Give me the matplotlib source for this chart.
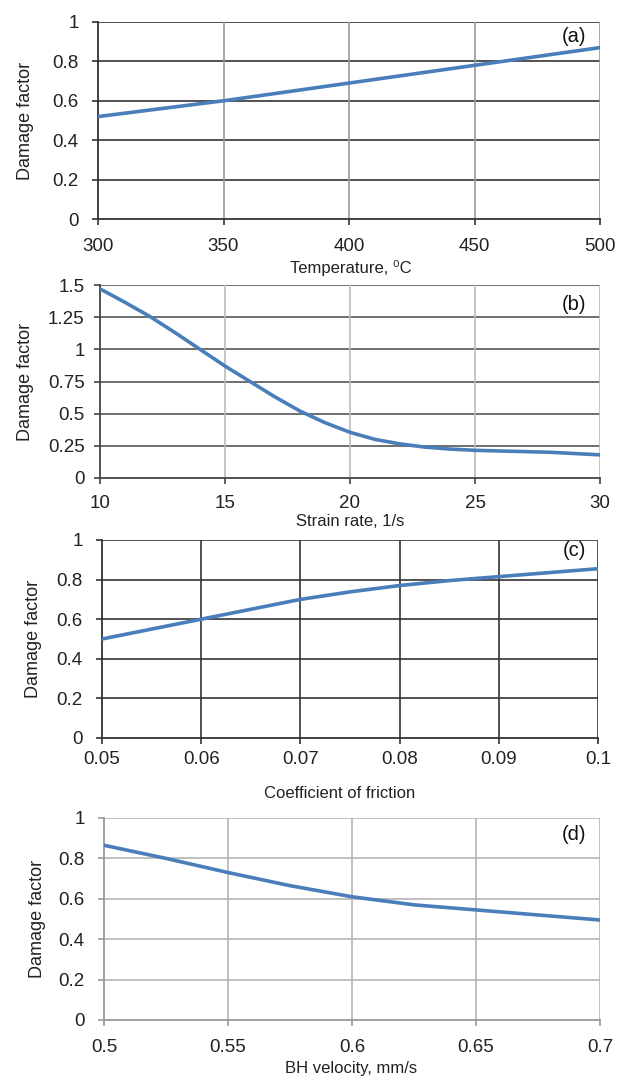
import matplotlib
matplotlib.use('Agg')
import matplotlib.pyplot as plt
from matplotlib.ticker import FuncFormatter

plt.rcParams['font.family'] = ['Liberation Sans', 'DejaVu Sans']

# (a) temperature
temp_x = [300, 325, 350, 375, 400, 425, 450, 475, 500]
temp_y = [0.52, 0.56, 0.60, 0.645, 0.69, 0.735, 0.78, 0.825, 0.87]
# (b) strain rate
rate_x = [10, 11, 12, 13, 14, 15, 16, 17, 18, 19, 20, 21, 22, 23, 24, 25, 26, 27, 28, 29, 30]
rate_y = [1.47, 1.365, 1.255, 1.13, 1.0, 0.87, 0.75, 0.63, 0.52, 0.43, 0.355, 0.30, 0.265, 0.24, 0.225,
          0.215, 0.21, 0.205, 0.20, 0.19, 0.18]
# (c) coefficient of friction
fric_x = [0.05, 0.055, 0.06, 0.065, 0.07, 0.075, 0.08, 0.085, 0.09, 0.095, 0.1]
fric_y = [0.50, 0.55, 0.60, 0.65, 0.70, 0.738, 0.77, 0.795, 0.815, 0.835, 0.855]
# (d) BH velocity
bh_x = [0.5, 0.525, 0.55, 0.575, 0.6, 0.625, 0.65, 0.675, 0.7]
bh_y = [0.865, 0.80, 0.73, 0.665, 0.61, 0.57, 0.545, 0.52, 0.495]

# box = left, top, right, bottom in pixels; xpad/ypad tick label pads; xl_y = x label centre (px)
panels = [
    dict(x=temp_x, y=temp_y, xlim=(300, 500), xt=[300, 350, 400, 450, 500], ylim=(0, 1),
         yt=[0, 0.2, 0.4, 0.6, 0.8, 1], xlabel='Temperature, ⁰C', tag='(a)', tag_y=36,
         box=[98, 22, 600, 219], hcol='#333333', vcol='#9a9a9a', scol='#333333',
         xpad=10, ypad=10, xl_x=351, xl_y=268),
    dict(x=rate_x, y=rate_y, xlim=(10, 30), xt=[10, 15, 20, 25, 30], ylim=(0, 1.5),
         yt=[0, 0.25, 0.5, 0.75, 1, 1.25, 1.5], xlabel='Strain rate, 1/s', tag='(b)', tag_y=305,
         box=[100, 285, 600, 478], hcol='#555555', vcol='#bbbbbb', scol='#444444',
         xpad=8, ypad=7, xl_x=350, xl_y=521),
    dict(x=fric_x, y=fric_y, xlim=(0.05, 0.1), xt=[0.05, 0.06, 0.07, 0.08, 0.09, 0.1], ylim=(0, 1),
         yt=[0, 0.2, 0.4, 0.6, 0.8, 1], xlabel='Coefficient of friction', tag='(c)', tag_y=551,
         box=[102, 540, 598, 738], hcol='#333333', vcol='#333333', scol='#333333',
         xpad=5, ypad=10, xl_x=340, xl_y=793),
    dict(x=bh_x, y=bh_y, xlim=(0.5, 0.7), xt=[0.5, 0.55, 0.6, 0.65, 0.7], ylim=(0, 1),
         yt=[0, 0.2, 0.4, 0.6, 0.8, 1], xlabel='BH velocity, mm/s', tag='(d)', tag_y=835,
         box=[104, 818, 600, 1020], hcol='#b5b5b5', vcol='#b5b5b5', scol='#999999',
         xpad=10, ypad=10, xl_x=351, xl_y=1068),
]
ylab_x = [25, 25, 34, 37]

W, H = 628, 1077
fig = plt.figure(figsize=(W / 100, H / 100), dpi=100)
fmt = FuncFormatter(lambda v, p: '%g' % v)

for p, yx in zip(panels, ylab_x):
    l, t, r, b = p['box']
    ax = fig.add_axes([l / W, 1 - b / H, (r - l) / W, (b - t) / H])
    ax.plot(p['x'], p['y'], color='#4a7ebb', lw=2.6, solid_capstyle='round', zorder=3)
    ax.set_xlim(*p['xlim'])
    ax.set_ylim(*p['ylim'])
    ax.set_xticks(p['xt'])
    ax.set_yticks(p['yt'])
    ax.xaxis.set_major_formatter(fmt)
    ax.yaxis.set_major_formatter(fmt)
    for v in p['yt'][1:]:
        ax.axhline(v, color=p['hcol'], lw=1.2, zorder=1)
    for v in p['xt'][1:]:
        ax.axvline(v, color=p['vcol'], lw=1.2, zorder=1)
    ax.spines['top'].set_visible(False)
    ax.spines['right'].set_visible(False)
    ax.spines['left'].set_color(p['scol'])
    ax.spines['bottom'].set_color(p['scol'])
    ax.spines['left'].set_linewidth(1.3)
    ax.spines['bottom'].set_linewidth(1.3)
    ax.tick_params(length=4, width=1.2, color=p['scol'], labelsize=13.5, labelcolor='#222222')
    ax.tick_params(axis='x', pad=p['xpad'])
    ax.tick_params(axis='y', pad=p['ypad'])
    ax.set_xlabel(p['xlabel'], fontsize=12, color='#222222', va='center')
    ax.xaxis.set_label_coords(p['xl_x'] / W, 1 - p['xl_y'] / H, transform=fig.transFigure)
    ax.set_ylabel('Damage factor', fontsize=13, color='#222222', va='center')
    ax.yaxis.set_label_coords(yx / W, 1 - (t + b) / 2 / H, transform=fig.transFigure)
    fig.text(586 / W, 1 - p['tag_y'] / H, p['tag'], ha='right', va='center', fontsize=14.5,
             color='#111111')

fig.savefig('out.png', dpi=100)
